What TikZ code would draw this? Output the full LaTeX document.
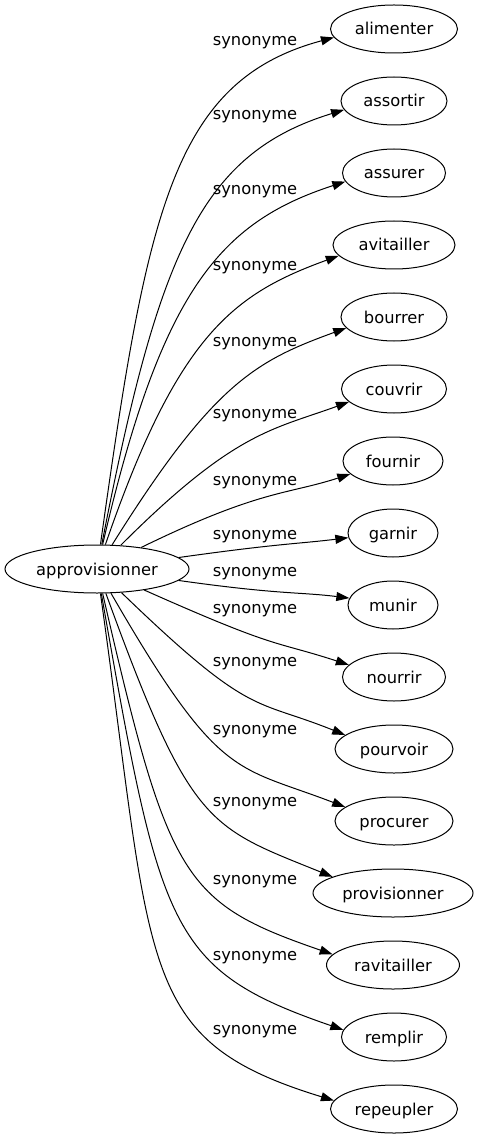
\documentclass[tikz,border=0pt]{standalone}
\usepackage{fontspec}
\setmainfont{DejaVu Sans}
\usetikzlibrary{arrows.meta,shapes.geometric}
\begin{document}
\begin{tikzpicture}[x=1pt,y=1pt,
  every node/.style={font=\fontsize{16.3}{19}\selectfont},
  word/.style={ellipse, draw, line width=1pt, minimum height=48pt, inner sep=0pt, text height=12pt, text depth=0pt},
  lab/.style={inner sep=0pt},
  syn/.style={draw, line width=1pt, -{Triangle[length=13pt,width=9pt]}},
  up/.style={syn, out looseness=1.53, in looseness=0.77},
  dn/.style={syn, out looseness=1.75, in looseness=0.95}]
\useasboundingbox (0,0) rectangle (479,-1139);
% source
\node[word, minimum width=184pt] (src) at (97,-569) {approvisionner};
% targets
\node[word, minimum width=127pt] (t1)  at (394,-29)   {alimenter};
\node[word, minimum width=106pt] (t2)  at (394,-101)  {assortir};
\node[word, minimum width=103pt] (t3)  at (394,-173)  {assurer};
\node[word, minimum width=122pt] (t4)  at (394,-245)  {avitailler};
\node[word, minimum width=106pt] (t5)  at (394,-317)  {bourrer};
\node[word, minimum width=105pt] (t6)  at (394,-389)  {couvrir};
\node[word, minimum width=100pt] (t7)  at (393,-461)  {fournir};
\node[word, minimum width=90pt]  (t8)  at (393,-533)  {garnir};
\node[word, minimum width=90pt]  (t9)  at (393,-605)  {munir};
\node[word, minimum width=103pt] (t10) at (394,-677)  {nourrir};
\node[word, minimum width=118pt] (t11) at (394,-749)  {pourvoir};
\node[word, minimum width=118pt] (t12) at (394,-821)  {procurer};
\node[word, minimum width=160pt] (t13) at (393,-893)  {provisionner};
\node[word, minimum width=133pt] (t14) at (393,-965)  {ravitailler};
\node[word, minimum width=105pt] (t15) at (394,-1037) {remplir};
\node[word, minimum width=127pt] (t16) at (394,-1109) {repeupler};
% labels
\node[lab] (l1)  at (255,-43)   {synonyme};
\node[lab] (l2)  at (255,-117)  {synonyme};
\node[lab] (l3)  at (255,-192)  {synonyme};
\node[lab] (l4)  at (255,-268)  {synonyme};
\node[lab] (l5)  at (255,-344)  {synonyme};
\node[lab] (l6)  at (255,-416)  {synonyme};
\node[lab] (l7)  at (255,-483)  {synonyme};
\node[lab] (l8)  at (255,-537)  {synonyme};
\node[lab] (l9)  at (255,-574)  {synonyme};
\node[lab] (l10) at (255,-611)  {synonyme};
\node[lab] (l11) at (255,-664)  {synonyme};
\node[lab] (l12) at (255,-732)  {synonyme};
\node[lab] (l13) at (255,-804)  {synonyme};
\node[lab] (l14) at (255,-882)  {synonyme};
\node[lab] (l15) at (255,-958)  {synonyme};
\node[lab] (l16) at (255,-1032) {synonyme};
% edges
\draw[up] (src) to[out=82, in=195] (t1.188);
\draw[up] (src) to[out=79, in=197] (t2.190);
\draw[up] (src) to[out=77, in=198] (t3.190);
\draw[up] (src) to[out=71, in=200] (t4.191);
\draw[up] (src) to[out=58, in=200] (t5.193);
\draw[up] (src) to[out=45, in=200] (t6.196);
\draw[up] (src) to[out=26, in=198] (t7.197);
\draw[up] (src) to[out=8, in=187] (t8.186);
\draw[up] (src) to[out=-8, in=173] (t9.171);
\draw[dn] (src) to[out=-24, in=162] (t10.165);
\draw[dn] (src) to[out=-44, in=158] (t11.164);
\draw[dn] (src) to[out=-60, in=159] (t12.164);
\draw[dn] (src) to[out=-70, in=158] (t13.165);
\draw[dn] (src) to[out=-77, in=161] (t14.170);
\draw[dn] (src) to[out=-80, in=161] (t15.172);
\draw[dn] (src) to[out=-82, in=163] (t16.172);
\end{tikzpicture}
\end{document}
